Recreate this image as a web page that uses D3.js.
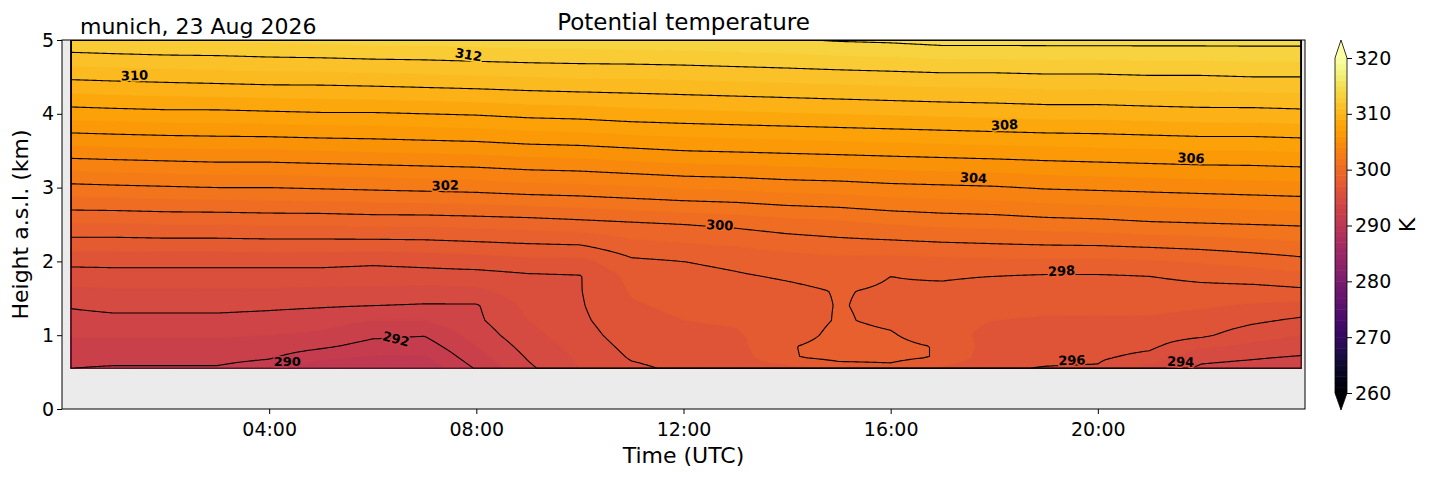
<!DOCTYPE html>
<html>
<head>
<meta charset="utf-8">
<script src="https://cdn.jsdelivr.net/npm/d3@7"></script>
<style>
  body { margin: 0; background: #fff; }
  text { font-family: "DejaVu Sans", sans-serif; }
</style>
</head>
<body>
<svg id="chart" width="1429" height="478"></svg>
<script>
//----------Data----------
// time of each grid column (hours UTC)
var times = [0.17, 1, 2, 3, 4, 5, 6, 7, 8, 9, 10, 11, 12, 13, 14, 15, 16, 17, 18, 19, 20, 21, 22, 23, 23.93];
// height of each grid row (km a.s.l.)
var heights = [0.55, 0.7, 0.85, 1.0, 1.2, 1.4, 1.6, 1.8, 2.0, 2.5, 3.0, 3.5, 4.0, 4.5, 5.0];
// potential temperature (K), one row per height
var theta055 = [292.0,291.9,291.9,291.9,291.5,290.3,290.1,290.3,292.1,293.8,295.0,295.8,296.2,296.3,296.6,297.5,297.7,296.8,296.1,295.95,295.9,294.6,293.8,293.6,293.4];
var theta070 = [292.3,292.3,292.3,292.3,292.1,291.3,290.9,290.9,292.6,294.1,295.2,296.1,296.4,296.5,297.9,298.3,298.3,297.9,296.3,296.2,296.15,295.7,294.3,294.1,293.9];
var theta085 = [292.7,292.7,292.7,292.7,292.6,292.2,291.6,291.5,293.0,294.4,295.4,296.3,296.6,296.7,297.9,298.4,298.3,297.9,296.5,296.4,296.4,296.2,295.2,294.8,294.5];
var theta100 = [293.1,293.1,293.1,293.1,293.0,292.8,292.2,292.05,293.4,294.7,295.6,296.5,296.8,296.9,297.5,298.3,298.1,297.4,296.7,296.6,296.6,296.5,296.2,295.4,295.0];
var theta120 = [293.6,293.7,293.7,293.7,293.6,293.4,293.0,293.0,293.8,295.0,295.8,296.7,297.0,297.1,297.4,298.1,297.8,297.3,297.0,296.9,296.9,296.9,296.7,296.2,295.8];
var theta140 = [294.1,294.3,294.3,294.3,294.2,294.1,294.0,293.9,293.9,295.3,295.9,296.9,297.2,297.3,297.6,298.05,297.8,297.5,297.3,297.2,297.2,297.2,297.1,296.9,296.7];
var theta160 = [294.8,294.9,294.9,294.9,294.9,294.8,294.8,294.7,294.8,295.6,295.95,297.1,297.4,297.6,297.8,298.05,297.9,297.8,297.6,297.5,297.5,297.5,297.6,297.6,297.8];
var theta180 = [295.5,295.6,295.6,295.6,295.6,295.6,295.5,295.6,295.6,295.85,295.95,297.3,297.7,297.9,298.1,298.3,298.0,298.1,298.0,297.9,297.9,298.0,298.3,298.5,298.7];
var theta200 = [296.3,296.3,296.3,296.3,296.3,296.3,296.2,296.3,296.5,296.7,296.7,297.8,298.0,298.2,298.5,298.7,298.6,298.7,298.8,298.8,298.8,298.9,299.1,299.4,299.7];
var theta250 = [298.9,298.9,299.0,299.0,299.1,299.1,299.2,299.2,299.3,299.4,299.6,299.8,300.0,300.2,300.5,300.7,301.0,301.2,301.3,301.5,301.6,301.8,301.9,302.0,302.1];
var theta300 = [301.7,301.8,301.9,302.0,302.0,302.1,302.2,302.3,302.4,302.6,302.7,302.9,303.1,303.2,303.4,303.5,303.7,303.8,303.9,304.1,304.2,304.3,304.4,304.5,304.6];
var theta350 = [304.6,304.7,304.8,304.9,304.9,305.0,305.1,305.2,305.3,305.5,305.6,305.8,306.0,306.1,306.2,306.3,306.4,306.5,306.6,306.7,306.8,306.9,307.0,307.0,307.1];
var theta400 = [307.5,307.6,307.7,307.7,307.8,307.9,307.9,308.0,308.1,308.3,308.4,308.6,308.7,308.8,308.9,309.0,309.1,309.2,309.3,309.4,309.4,309.5,309.6,309.6,309.7];
var theta450 = [310.2,310.3,310.4,310.5,310.6,310.6,310.7,310.8,310.9,311.0,311.1,311.1,311.2,311.3,311.4,311.5,311.6,311.7,311.7,311.8,311.8,311.9,311.9,312.0,312.0];
var theta500 = [312.9,313.0,313.1,313.1,313.2,313.3,313.4,313.4,313.5,313.6,313.6,313.7,313.7,313.8,313.9,314.1,314.2,314.4,314.4,314.4,314.4,314.4,314.4,314.4,314.4];
var thetaRows = [theta055, theta070, theta085, theta100, theta120, theta140, theta160, theta180, theta200,
                 theta250, theta300, theta350, theta400, theta450, theta500];

// contour labels: level, time, height, rotation
var labelLevels = [312, 310, 308, 306, 304, 302, 300, 298, 296, 294, 292, 290];
var labelTimes  = [7.85, 1.4, 18.2, 21.8, 17.6, 7.4, 12.7, 19.3, 19.5, 21.6, 6.45, 4.35];
var labelHeights= [4.8, 4.52, 3.85, 3.4, 3.13, 3.03, 2.49, 1.87, 0.66, 0.64, 0.95, 0.65];
var labelAngles = [10, -2, -3, 3, 3, -2, 3, -3, -2, 2, 14, 0];

var xTicks = [4, 8, 12, 16, 20];
var xTickLabels = ["04:00", "08:00", "12:00", "16:00", "20:00"];
var yTicks = [0, 1, 2, 3, 4, 5];
var cbTicks = [260, 270, 280, 290, 300, 310, 320];

//----------Layout----------
var svg = d3.select('#chart');
var plotL = 62, plotR = 1305, plotT = 40, plotB = 409;
var x = d3.scaleLinear().domain([0, 24]).range([plotL, plotR]);
var y = d3.scaleLinear().domain([0, 5]).range([plotB, plotT]);
var vmin = 260, vmax = 320;
var bandColor = function(t) { return d3.interpolateInferno((t + 0.5 - vmin) / (vmax - vmin)); };

svg.append('rect').attr('x', plotL).attr('y', plotT).attr('width', plotR - plotL).attr('height', plotB - plotT)
    .attr('fill', '#ebebeb');

//----------Resample grid for drawing (bilinear)----------
var nx = 600, ny = 220;
var t0 = times[0], t1 = times[times.length - 1], h0 = heights[0], h1 = heights[heights.length - 1];
function sample(t, h) {
    var i = Math.max(0, Math.min(d3.bisectRight(times, t) - 1, times.length - 2));
    var j = Math.max(0, Math.min(d3.bisectRight(heights, h) - 1, heights.length - 2));
    var ft = (t - times[i]) / (times[i + 1] - times[i]);
    var fh = (h - heights[j]) / (heights[j + 1] - heights[j]);
    var a = thetaRows[j][i], b = thetaRows[j][i + 1], c = thetaRows[j + 1][i], d = thetaRows[j + 1][i + 1];
    return (a * (1 - ft) + b * ft) * (1 - fh) + (c * (1 - ft) + d * ft) * fh;
}
var values = new Array(nx * ny);
for (var jj = 0; jj < ny; jj++) {
    for (var ii = 0; ii < nx; ii++) {
        values[jj * nx + ii] = sample(t0 + (t1 - t0) * ii / (nx - 1), h0 + (h1 - h0) * jj / (ny - 1));
    }
}
var gx = function(g) { return x(t0 + (t1 - t0) * g / (nx - 1)); };
var gy = function(g) { return y(h0 + (h1 - h0) * g / (ny - 1)); };
var path = d3.geoPath(d3.geoTransform({
    point: function(px, py) {
        this.stream.point(gx(Math.max(0, Math.min(nx - 1, px - 0.5))), gy(Math.max(0, Math.min(ny - 1, py - 0.5))));
    }
}));

svg.append('clipPath').attr('id', 'dataClip').append('rect')
    .attr('x', x(t0)).attr('y', y(h1)).attr('width', x(t1) - x(t0)).attr('height', y(h0) - y(h1));

var fillG = svg.append('g').attr('clip-path', 'url(#dataClip)');
var bands = d3.contours().size([nx, ny]).thresholds(d3.range(260, 321, 1))(values);
fillG.selectAll('path.band').data(bands).join('path')
    .attr('d', path)
    .attr('fill', function(d) { return bandColor(d.value); })
    .attr('stroke', function(d) { return bandColor(d.value); })
    .attr('stroke-width', 0.6);

var lines = d3.contours().size([nx, ny]).thresholds(d3.range(290, 316, 2))(values);
fillG.selectAll('path.line').data(lines).join('path')
    .attr('d', path)
    .attr('fill', 'none')
    .attr('stroke', '#000')
    .attr('stroke-width', 1.1);

// contour labels
labelLevels.forEach(function(lv, k) {
    var lx = x(labelTimes[k]), ly = y(labelHeights[k]);
    svg.append('text')
        .attr('transform', 'translate(' + lx + ',' + ly + ') rotate(' + labelAngles[k] + ')')
        .attr('text-anchor', 'middle').attr('dy', '0.35em')
        .attr('font-size', 13).attr('font-weight', 'bold')
        .attr('stroke', bandColor(lv)).attr('stroke-width', 3).attr('paint-order', 'stroke')
        .text(lv);
});

//----------Axes----------
svg.append('rect').attr('x', plotL).attr('y', plotT).attr('width', plotR - plotL).attr('height', plotB - plotT)
    .attr('fill', 'none').attr('stroke', '#000').attr('stroke-width', 1);

var xAxis = svg.append('g').attr('transform', 'translate(0,' + plotB + ')')
    .call(d3.axisBottom(x).tickValues(xTicks).tickFormat(function(d, i) { return xTickLabels[i]; }).tickSize(5).tickSizeOuter(0));
xAxis.select('.domain').remove();
xAxis.selectAll('text').attr('font-size', 19).attr('font-family', 'DejaVu Sans').attr('dy', '1.0em');

var yAxis = svg.append('g').attr('transform', 'translate(' + plotL + ',0)')
    .call(d3.axisLeft(y).tickValues(yTicks).tickFormat(d3.format('d')).tickSize(5).tickSizeOuter(0));
yAxis.select('.domain').remove();
yAxis.selectAll('text').attr('font-size', 19).attr('font-family', 'DejaVu Sans');

svg.append('text').attr('x', (plotL + plotR) / 2).attr('y', 463).attr('text-anchor', 'middle')
    .attr('font-size', 22).text('Time (UTC)');
svg.append('text').attr('transform', 'translate(28,' + ((plotT + plotB) / 2) + ') rotate(-90)')
    .attr('text-anchor', 'middle').attr('font-size', 22).text('Height a.s.l. (km)');
svg.append('text').attr('x', (plotL + plotR) / 2).attr('y', 30).attr('text-anchor', 'middle')
    .attr('font-size', 23).text('Potential temperature');
svg.append('text').attr('x', 80).attr('y', 34).attr('font-size', 22).text('munich, 23 Aug 2026');

//----------Colorbar----------
var cbx = 1335, cbw = 12;
var cb = d3.scaleLinear().domain([vmin, vmax]).range([393, 58]);
var cbG = svg.append('g');
d3.range(vmin, vmax, 1).forEach(function(t) {
    cbG.append('rect').attr('x', cbx).attr('y', cb(t + 1)).attr('width', cbw).attr('height', cb(t) - cb(t + 1) + 0.5)
        .attr('fill', bandColor(t));
});
cbG.append('path').attr('d', 'M' + cbx + ',' + cb(vmax) + 'L' + (cbx + cbw / 2) + ',40L' + (cbx + cbw) + ',' + cb(vmax) + 'Z')
    .attr('fill', d3.interpolateInferno(1));
cbG.append('path').attr('d', 'M' + cbx + ',' + cb(vmin) + 'L' + (cbx + cbw / 2) + ',410L' + (cbx + cbw) + ',' + cb(vmin) + 'Z')
    .attr('fill', d3.interpolateInferno(0));
cbG.append('path')
    .attr('d', 'M' + cbx + ',' + cb(vmin) + 'L' + cbx + ',' + cb(vmax) + 'L' + (cbx + cbw / 2) + ',40L' + (cbx + cbw) + ',' + cb(vmax) +
               'L' + (cbx + cbw) + ',' + cb(vmin) + 'L' + (cbx + cbw / 2) + ',410Z')
    .attr('fill', 'none').attr('stroke', '#000').attr('stroke-width', 0.8);
var cbAxis = svg.append('g').attr('transform', 'translate(' + (cbx + cbw) + ',0)')
    .call(d3.axisRight(cb).tickValues(cbTicks).tickSize(5).tickSizeOuter(0));
cbAxis.select('.domain').remove();
cbAxis.selectAll('text').attr('font-size', 19).attr('font-family', 'DejaVu Sans');
svg.append('text').attr('transform', 'translate(1415,225) rotate(-90)').attr('text-anchor', 'middle')
    .attr('font-size', 22).text('K');
</script>
</body>
</html>
